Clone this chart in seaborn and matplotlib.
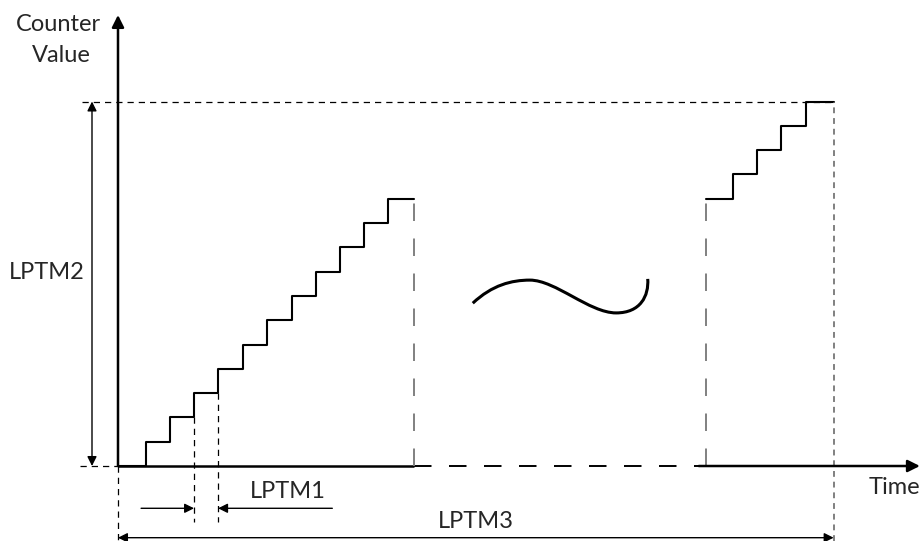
import numpy as np
import matplotlib
matplotlib.use("Agg")
import matplotlib.pyplot as plt
import seaborn as sns
from matplotlib.path import Path
from matplotlib.patches import PathPatch

# time unit = one counter tick width, counter unit = one increment
# first run of the counter (starts at zero)
t_run1 = [0, 1.15, 2.15, 3.13, 4.12, 5.14, 6.13, 7.16, 8.15, 9.14, 10.12, 11.11, 12.17]
c_run1 = [0, 1, 2, 3, 4, 5, 6, 7, 8, 9, 10, 11, 11]

# last run of the counter (reaches the top value)
t_run2 = [24.2, 25.3, 26.3, 27.3, 28.3, 29.45]
c_run2 = [11, 12, 13, 14, 15, 15]

top_value = 15
run1_end = 12.17
gap_end = 23.9
run2_start = 24.2
lptm3_end = 29.45
tick_a, tick_b = 3.13, 4.12   # one tick period (LPTM1)
x_max, y_max = 33.0, 18.56

# "~" time-gap symbol, cubic bezier control points
gap_curve = [(14.6, 6.7), (15.4, 7.45), (16.2, 7.65), (16.95, 7.65),
             (18.0, 7.65), (19.4, 6.3), (20.5, 6.3),
             (21.5, 6.3), (21.85, 7.0), (21.8, 7.7)]

sns.set_style("white")
plt.rcParams['font.family'] = ['Lato', 'DejaVu Sans']

fig = plt.figure(figsize=(9.23, 5.41), dpi=100)
ax = fig.add_axes([0, 0, 1, 1])
ax.set_xlim(-4.856, 33.128)
ax.set_ylim(-3.086, 19.177)
ax.axis('off')

black = '#000000'
grey = '#808080'
fs = 17

# counter staircases
sns.lineplot(x=t_run1, y=c_run1, drawstyle='steps-post', color=black, lw=1.5,
             estimator=None, ax=ax)
sns.lineplot(x=t_run2, y=c_run2, drawstyle='steps-post', color=black, lw=1.5,
             estimator=None, ax=ax)

# axes with arrows
ax.annotate('', xy=(0, y_max), xytext=(0, 0),
            arrowprops=dict(arrowstyle='-|>', color=black, lw=1.8,
                            mutation_scale=18, shrinkA=0, shrinkB=0))
ax.plot([0, run1_end], [0, 0], color=black, lw=1.8, solid_capstyle='butt')
ax.plot([run1_end, gap_end], [0, 0], color=black, lw=1.4, ls=(0, (9, 9)))
ax.annotate('', xy=(x_max, 0), xytext=(gap_end, 0),
            arrowprops=dict(arrowstyle='-|>', color=black, lw=1.8,
                            mutation_scale=18, shrinkA=0, shrinkB=0))

# grey dashed end markers of the runs
ax.plot([run1_end, run1_end], [0, 11.5], color=grey, lw=1.4, ls=(0, (9, 9)))
ax.plot([run2_start, run2_start], [0, 11.5], color=grey, lw=1.4, ls=(0, (9, 9)))
ax.plot([lptm3_end, lptm3_end], [-3.1, top_value], color=grey, lw=1.4,
        ls=(0, (3, 2.5)))

# black dashed guides
ax.plot([-1.5, lptm3_end], [top_value, top_value], color=black, lw=0.9,
        ls=(0, (5, 4)))
ax.plot([-1.56, 0], [0, 0], color=black, lw=0.9, ls=(0, (5, 4)))
ax.plot([0, 0], [0, -3.1], color=black, lw=0.9, ls=(0, (5, 4)))
ax.plot([tick_a, tick_a], [2, -2.3], color=black, lw=0.9, ls=(0, (5, 4)))
ax.plot([tick_b, tick_b], [3, -2.3], color=black, lw=0.9, ls=(0, (5, 4)))

arrow_kw = dict(color=black, lw=1.0, mutation_scale=14, shrinkA=0, shrinkB=0)
# LPTM2
ax.annotate('', xy=(-1.07, top_value), xytext=(-1.07, 0),
            arrowprops=dict(arrowstyle='<|-|>', **arrow_kw))
ax.text(-2.92, 7.98, 'LPTM2', fontsize=fs, ha='center', va='center')
# LPTM1
ax.annotate('', xy=(tick_a, -1.74), xytext=(0.95, -1.74),
            arrowprops=dict(arrowstyle='-|>', **arrow_kw))
ax.annotate('', xy=(tick_b, -1.74), xytext=(8.82, -1.74),
            arrowprops=dict(arrowstyle='-|>', **arrow_kw))
ax.text(7.0, -1.03, 'LPTM1', fontsize=fs, ha='center', va='center')
# LPTM3
ax.annotate('', xy=(lptm3_end, -2.95), xytext=(0, -2.95),
            arrowprops=dict(arrowstyle='<|-|>', **arrow_kw))
ax.text(14.73, -2.3, 'LPTM3', fontsize=fs, ha='center', va='center')

# axis titles
ax.text(-2.47, 18.15, 'Counter', fontsize=fs, ha='center', va='center')
ax.text(-2.35, 16.9, 'Value', fontsize=fs, ha='center', va='center')
ax.text(31.97, -0.9, 'Time', fontsize=fs, ha='center', va='center')

# time-gap symbol
codes = [Path.MOVETO] + [Path.CURVE4] * 9
ax.add_patch(PathPatch(Path(gap_curve, codes), fill=False, color=black, lw=2.2))

fig.savefig('out.png', dpi=100)
